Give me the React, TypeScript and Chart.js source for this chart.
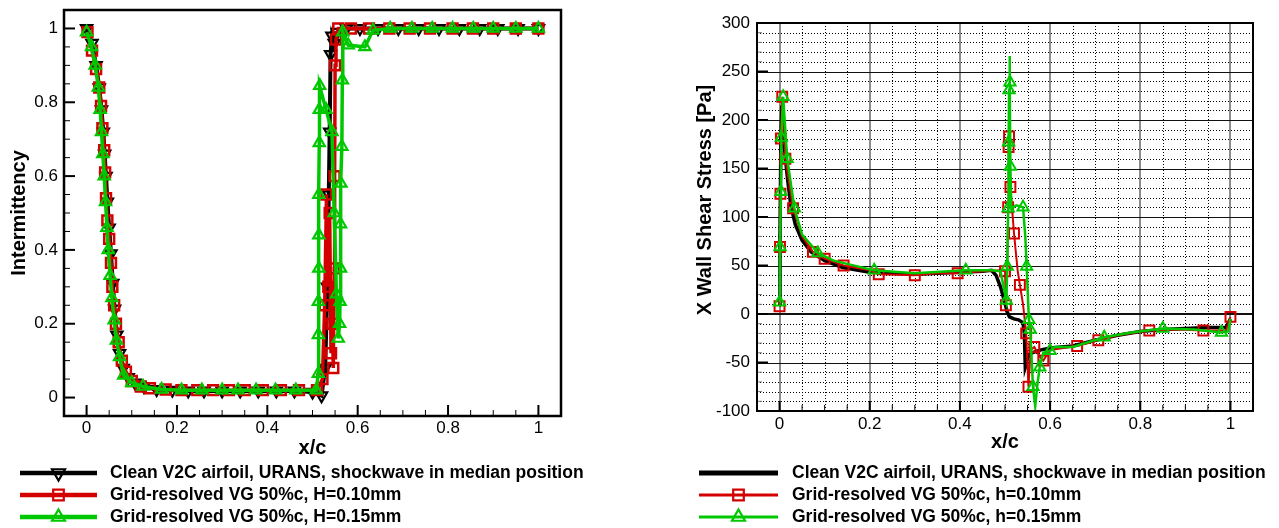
import React, { useEffect, useRef } from "react";
import { Chart, registerables } from "chart.js";

Chart.register(...registerables);

const FONT = '"Liberation Sans", Arial, Helvetica, sans-serif';
const BLACK = "#000000";
const RED = "#d40000";
const GREEN = "#00c800";

// ---------- tick labels / texts ----------
const xTickValues = [0, 0.2, 0.4, 0.6, 0.8, 1];
const leftYTickValues = [0, 0.2, 0.4, 0.6, 0.8, 1];
const rightYTickValues = [-100, -50, 0, 50, 100, 150, 200, 250, 300];

const leftYTitle = "Intermittency";
const rightYTitle = "X Wall Shear Stress [Pa]";
const xTitle = "x/c";
const leftLegendLabels = [
  "Clean V2C airfoil, URANS, shockwave in median position",
  "Grid-resolved VG 50%c, H=0.10mm",
  "Grid-resolved VG 50%c, H=0.15mm",
];
const rightLegendLabels = [
  "Clean V2C airfoil, URANS, shockwave in median position",
  "Grid-resolved VG 50%c, h=0.10mm",
  "Grid-resolved VG 50%c, h=0.15mm",
];

// ---------- left chart: intermittency ----------
const leftBlackX = [0, 0.012, 0.021, 0.028, 0.033, 0.037, 0.04, 0.043, 0.046, 0.05, 0.054, 0.058, 0.062, 0.067, 0.073, 0.081, 0.092, 0.107, 0.127, 0.155, 0.19, 0.225, 0.26, 0.3, 0.34, 0.38, 0.42, 0.46, 0.5, 0.52, 0.528, 0.533, 0.536, 0.538, 0.54, 0.543, 0.548, 0.555, 0.575, 0.605, 0.645, 0.69, 0.735, 0.78, 0.825, 0.87, 0.91, 0.955, 1.0];
const leftBlackY = [1.0, 0.96, 0.9, 0.84, 0.78, 0.72, 0.66, 0.6, 0.53, 0.46, 0.39, 0.31, 0.24, 0.17, 0.12, 0.08, 0.055, 0.04, 0.03, 0.022, 0.02, 0.018, 0.018, 0.018, 0.018, 0.018, 0.018, 0.018, 0.015, 0.005, 0.08, 0.3, 0.55, 0.72, 0.93, 0.98, 0.96, 0.99, 1.0, 1.0, 1.0, 1.0, 1.0, 1.0, 1.0, 1.0, 1.0, 1.0, 1.0];

const leftRedX = [0.002, 0.012, 0.021, 0.028, 0.032, 0.035, 0.039, 0.041, 0.043, 0.046, 0.05, 0.054, 0.057, 0.061, 0.065, 0.071, 0.078, 0.087, 0.1, 0.12, 0.14, 0.175, 0.21, 0.245, 0.28, 0.315, 0.35, 0.39, 0.43, 0.47, 0.51, 0.522, 0.527, 0.531, 0.535, 0.538, 0.541, 0.544, 0.546, 0.548, 0.549, 0.55, 0.552, 0.557, 0.585, 0.625, 0.67, 0.715, 0.76, 0.81, 0.855, 0.9, 0.95, 1.0];
const leftRedY = [0.99, 0.94, 0.89, 0.84, 0.79, 0.73, 0.67, 0.61, 0.54, 0.48, 0.43, 0.365, 0.3, 0.25, 0.2, 0.15, 0.1, 0.07, 0.045, 0.03, 0.025, 0.022, 0.02, 0.02, 0.02, 0.02, 0.02, 0.02, 0.02, 0.02, 0.02, 0.05, 0.25, 0.55, 0.3, 0.5, 0.12, 0.2, 0.08, 0.35, 0.6, 0.9, 0.97, 1.0, 1.0, 1.0, 1.0, 1.0, 1.0, 1.0, 1.0, 1.0, 1.0, 1.0];

const leftGreenX = [0, 0.011, 0.019, 0.026, 0.03, 0.033, 0.036, 0.039, 0.042, 0.045, 0.048, 0.052, 0.056, 0.061, 0.066, 0.073, 0.082, 0.1, 0.125, 0.166, 0.21, 0.255, 0.3, 0.335, 0.375, 0.418, 0.463, 0.508, 0.513, 0.513, 0.513, 0.514, 0.514, 0.514, 0.515, 0.515, 0.516, 0.53, 0.543, 0.548, 0.553, 0.557, 0.56, 0.561, 0.562, 0.562, 0.563, 0.565, 0.566, 0.567, 0.579, 0.616, 0.634, 0.672, 0.72, 0.765, 0.81, 0.856, 0.9, 0.95, 1.0];
const leftGreenY = [0.99, 0.95, 0.9, 0.84, 0.78, 0.72, 0.66, 0.6, 0.53, 0.46, 0.4, 0.33, 0.27, 0.21, 0.155, 0.11, 0.06, 0.04, 0.03, 0.022, 0.02, 0.02, 0.02, 0.02, 0.02, 0.02, 0.02, 0.02, 0.065, 0.17, 0.26, 0.35, 0.44, 0.55, 0.69, 0.78, 0.845, 0.78, 0.72, 0.5, 0.28, 0.16, 0.2, 0.26, 0.35, 0.47, 0.58, 0.68, 0.86, 0.99, 0.955, 0.95, 0.995, 1.0, 1.0, 1.0, 1.0, 1.0, 1.0, 1.0, 1.0];

// ---------- right chart: X wall shear stress ----------
const rightBlackX = [0, 0.001, 0.003, 0.005, 0.008, 0.012, 0.018, 0.025, 0.035, 0.05, 0.07, 0.1, 0.14, 0.2, 0.25, 0.3, 0.35, 0.4, 0.45, 0.47, 0.48, 0.49, 0.5, 0.505, 0.51, 0.52, 0.53, 0.54, 0.543, 0.545, 0.547, 0.55, 0.56, 0.58, 0.6, 0.65, 0.7, 0.75, 0.8, 0.85, 0.9, 0.95, 0.99, 1.0];
const rightBlackY = [10, 80, 180, 215, 195, 165, 138, 112, 92, 76, 64, 55, 48, 43, 42, 41, 42, 43, 44, 45, 40, 28, 11, 2, -3, -5, -6, -9, -20, -55, -52, -45, -40, -37, -35, -33, -27, -22, -18, -16, -15, -14, -14, -5];

const rightRedX = [0, 0.001, 0.002, 0.003, 0.006, 0.013, 0.03, 0.05, 0.074, 0.1, 0.142, 0.2, 0.22, 0.3, 0.35, 0.395, 0.45, 0.49, 0.5, 0.502, 0.505, 0.507, 0.508, 0.509, 0.512, 0.52, 0.528, 0.533, 0.54, 0.547, 0.552, 0.557, 0.565, 0.577, 0.585, 0.6, 0.66, 0.707, 0.75, 0.82, 0.88, 0.94, 0.99, 1.0];
const rightRedY = [8, 69, 124, 181, 224, 160, 109, 80, 64, 57, 50, 45, 41, 40, 42, 42, 44, 45, 44, 9, 45, 110, 172, 183, 131, 83, 45, 30, 10, -20, -75, -37, -34, -44, -48, -37, -33, -27, -22, -17, -16, -17, -17, -3];
const rightRedMarkX = [0, 0.001, 0.002, 0.003, 0.006, 0.013, 0.03, 0.074, 0.1, 0.142, 0.22, 0.3, 0.395, 0.5, 0.502, 0.507, 0.508, 0.509, 0.512, 0.52, 0.533, 0.547, 0.552, 0.565, 0.585, 0.66, 0.707, 0.82, 0.94, 1.0];
const rightRedMarkY = [8, 69, 124, 181, 224, 160, 109, 64, 57, 50, 41, 40, 42, 44, 9, 110, 172, 183, 131, 83, 30, -20, -75, -34, -48, -33, -27, -17, -17, -3];

const rightGreenX = [0, 0.001, 0.003, 0.004, 0.008, 0.017, 0.033, 0.05, 0.085, 0.12, 0.21, 0.3, 0.413, 0.47, 0.49, 0.503, 0.505, 0.507, 0.508, 0.509, 0.51, 0.511, 0.512, 0.514, 0.525, 0.54, 0.545, 0.548, 0.553, 0.556, 0.562, 0.567, 0.572, 0.577, 0.585, 0.6, 0.61, 0.65, 0.72, 0.78, 0.85, 0.92, 0.98, 0.995, 1.0];
const rightGreenY = [12, 69, 126, 182, 224, 160, 109, 82, 63, 55, 45, 42, 45, 45, 44, 14, 49, 109, 177, 231, 266, 239, 152, 109, 112, 110, 80, 49, -6, -16, -75, -95, -72, -55, -40, -38, -34, -34, -24, -19, -15, -16, -19, -18, -5];
const rightGreenMarkX = [0, 0.001, 0.003, 0.004, 0.008, 0.017, 0.033, 0.085, 0.21, 0.413, 0.503, 0.505, 0.507, 0.508, 0.509, 0.511, 0.512, 0.54, 0.548, 0.553, 0.556, 0.562, 0.577, 0.6, 0.72, 0.85, 0.98];
const rightGreenMarkY = [12, 69, 126, 182, 224, 160, 109, 63, 45, 45, 14, 49, 109, 177, 231, 239, 152, 110, 49, -6, -16, -75, -55, -38, -24, -15, -19];

// ---------- helpers ----------
const zip = (xs: number[], ys: number[]) => xs.map((x, i) => ({ x, y: ys[i] }));
const fmt = (v: number) => String(Math.round(v * 100) / 100);

function drawMarker(ctx: CanvasRenderingContext2D, style: string, x: number, y: number, r: number, rotDeg: number, color: string, lw: number) {
  ctx.save();
  ctx.strokeStyle = color;
  ctx.lineWidth = lw;
  ctx.beginPath();
  if (style === "rect") {
    const s = r * Math.SQRT1_2;
    ctx.rect(x - s, y - s, 2 * s, 2 * s);
  } else if (style === "triangle") {
    let rad = (rotDeg * Math.PI) / 180;
    ctx.moveTo(x + Math.sin(rad) * r, y - Math.cos(rad) * r);
    rad += (2 * Math.PI) / 3;
    ctx.lineTo(x + Math.sin(rad) * r, y - Math.cos(rad) * r);
    rad += (2 * Math.PI) / 3;
    ctx.lineTo(x + Math.sin(rad) * r, y - Math.cos(rad) * r);
    ctx.closePath();
  }
  ctx.stroke();
  ctx.restore();
}

type LegendItem = { color: string; lineWidth: number; marker: string | null; rot: number; label: string };

function drawLegend(ctx: CanvasRenderingContext2D, items: LegendItem[], x1: number, x2: number, tx: number, rows: number[], r: number) {
  ctx.save();
  items.forEach((it, i) => {
    const y = rows[i];
    ctx.strokeStyle = it.color;
    ctx.lineWidth = it.lineWidth;
    ctx.beginPath();
    ctx.moveTo(x1, y);
    ctx.lineTo(x2, y);
    ctx.stroke();
    if (it.marker) drawMarker(ctx, it.marker, (x1 + x2) / 2, y, r, it.rot, it.color, 2.2);
    ctx.fillStyle = BLACK;
    ctx.font = `bold 17.5px ${FONT}`;
    ctx.textAlign = "left";
    ctx.textBaseline = "middle";
    ctx.fillText(it.label, tx, y);
  });
  ctx.restore();
}

function drawTitles(ctx: CanvasRenderingContext2D, yTitle: string, yx: number, yy: number, xx: number, xy: number) {
  ctx.save();
  ctx.fillStyle = BLACK;
  ctx.font = `bold 20px ${FONT}`;
  ctx.textAlign = "center";
  ctx.textBaseline = "middle";
  ctx.fillText(xTitle, xx, xy);
  ctx.translate(yx, yy);
  ctx.rotate(-Math.PI / 2);
  ctx.fillText(yTitle, 0, 0);
  ctx.restore();
}

function tick(ctx: CanvasRenderingContext2D, x1: number, y1: number, x2: number, y2: number, w: number, color: string) {
  ctx.strokeStyle = color;
  ctx.lineWidth = w;
  ctx.beginPath();
  ctx.moveTo(x1, y1);
  ctx.lineTo(x2, y2);
  ctx.stroke();
}

function xScale(ticks: number[], labelPad: number, height: number) {
  return {
    type: "linear",
    min: -0.05,
    max: 1.05,
    afterBuildTicks: (s: any) => {
      s.ticks = ticks.map((v) => ({ value: v }));
    },
    afterFit: (s: any) => {
      s.height = height;
      s.paddingLeft = 0;
      s.paddingRight = 0;
    },
    grid: { display: false, drawTicks: false },
    border: { display: false },
    ticks: {
      padding: labelPad,
      color: BLACK,
      autoSkip: false,
      maxRotation: 0,
      font: { family: FONT, size: 17 },
      callback: (v: any) => fmt(Number(v)),
    },
  };
}

function yScale(ticks: number[], min: number, max: number, labelPad: number, width: number) {
  return {
    type: "linear",
    min,
    max,
    afterBuildTicks: (s: any) => {
      s.ticks = ticks.map((v) => ({ value: v }));
    },
    afterFit: (s: any) => {
      s.width = width;
      s.paddingTop = 0;
      s.paddingBottom = 0;
    },
    grid: { display: false, drawTicks: false },
    border: { display: false },
    ticks: {
      padding: labelPad,
      color: BLACK,
      autoSkip: false,
      font: { family: FONT, size: 17 },
      callback: (v: any) => fmt(Number(v)),
    },
  };
}

const LEGEND_ROWS = [473, 495, 517];

const leftDecor = {
  id: "leftDecor",
  afterDraw(chart: any) {
    const { ctx, chartArea: a, scales } = chart;
    const xs = scales.x;
    const ys = scales.y;
    ctx.save();
    for (let i = 0; i <= 20; i++) {
      const major = i % 4 === 0;
      const px = xs.getPixelForValue(i * 0.05);
      tick(ctx, px, a.bottom, px, a.bottom - (major ? 11 : 6), major ? 2 : 1, BLACK);
      const py = ys.getPixelForValue(i * 0.05);
      tick(ctx, a.left, py, a.left + (major ? 11 : 6), py, major ? 2 : 1, BLACK);
    }
    ctx.strokeStyle = BLACK;
    ctx.lineWidth = 2.5;
    ctx.strokeRect(a.left, a.top, a.right - a.left, a.bottom - a.top);
    ctx.restore();
    drawTitles(ctx, leftYTitle, 19, (a.top + a.bottom) / 2, (a.left + a.right) / 2, 448);
    drawLegend(
      ctx,
      [
        { color: BLACK, lineWidth: 4.5, marker: "triangle", rot: 180, label: leftLegendLabels[0] },
        { color: RED, lineWidth: 4.5, marker: "rect", rot: 0, label: leftLegendLabels[1] },
        { color: GREEN, lineWidth: 4.5, marker: "triangle", rot: 0, label: leftLegendLabels[2] },
      ],
      20, 97, 110, LEGEND_ROWS, 7.5
    );
  },
};

const rightDecor = {
  id: "rightDecor",
  beforeDatasetsDraw(chart: any) {
    const { ctx, chartArea: a, scales } = chart;
    const xs = scales.x;
    const ys = scales.y;
    ctx.save();
    // minor dotted grid
    ctx.setLineDash([1, 2]);
    for (let i = 1; i < 20; i++) {
      if (i % 4 === 0) continue;
      const px = Math.round(xs.getPixelForValue(i * 0.05)) + 0.5;
      tick(ctx, px, a.top, px, a.bottom, 1, "#000");
    }
    for (let v = -90; v < 300; v += 10) {
      if (v % 50 === 0) continue;
      const py = Math.round(ys.getPixelForValue(v)) + 0.5;
      tick(ctx, a.left, py, a.right, py, 1, "#000");
    }
    ctx.setLineDash([]);
    // major grid
    for (let i = 0; i <= 5; i++) {
      const px = Math.round(xs.getPixelForValue(i * 0.2));
      tick(ctx, px, a.top, px, a.bottom, 2, "#8c8c8c");
    }
    for (let v = -50; v < 300; v += 50) {
      const py = Math.round(ys.getPixelForValue(v)) + (v === 0 ? 0 : 0.5);
      tick(ctx, a.left, py, a.right, py, v === 0 ? 2 : 1, "#111");
    }
    ctx.restore();
  },
  afterDraw(chart: any) {
    const { ctx, chartArea: a, scales } = chart;
    const xs = scales.x;
    const ys = scales.y;
    ctx.save();
    for (let i = 0; i <= 20; i++) {
      const major = i % 4 === 0;
      const px = xs.getPixelForValue(i * 0.05);
      tick(ctx, px, a.bottom, px, a.bottom - (major ? 10 : 6), major ? 2 : 1, BLACK);
    }
    for (let v = -100; v <= 300; v += 10) {
      const major = v % 50 === 0;
      const py = ys.getPixelForValue(v);
      tick(ctx, a.left, py, a.left + (major ? 11 : 5), py, major ? 2 : 1, major ? BLACK : "#777");
    }
    ctx.strokeStyle = BLACK;
    ctx.lineWidth = 2;
    ctx.strokeRect(a.left, a.top, a.right - a.left, a.bottom - a.top);
    ctx.restore();
    drawTitles(ctx, rightYTitle, 65, 200, (a.left + a.right) / 2, 442);
    drawLegend(
      ctx,
      [
        { color: BLACK, lineWidth: 5, marker: null, rot: 0, label: rightLegendLabels[0] },
        { color: RED, lineWidth: 3, marker: "rect", rot: 0, label: rightLegendLabels[1] },
        { color: GREEN, lineWidth: 3, marker: "triangle", rot: 0, label: rightLegendLabels[2] },
      ],
      59, 138, 152, LEGEND_ROWS, 7.5
    );
  },
};

function lineSet(data: any[], color: string, width: number, order: number) {
  return {
    data,
    showLine: true,
    borderColor: color,
    borderWidth: width,
    pointRadius: 0,
    pointHoverRadius: 0,
    tension: 0,
    fill: false,
    order,
  };
}

function markSet(data: any[], color: string, style: string, rot: number, radius: number, order: number, withLine: boolean, lineWidth: number, markWidth: number) {
  return {
    data,
    showLine: withLine,
    borderColor: color,
    borderWidth: lineWidth,
    pointStyle: style,
    pointRotation: rot,
    pointRadius: radius,
    pointHoverRadius: radius,
    pointBorderColor: color,
    pointBorderWidth: markWidth,
    pointBackgroundColor: "rgba(0,0,0,0)",
    tension: 0,
    fill: false,
    order,
  };
}

function LeftChart() {
  const ref = useRef<HTMLCanvasElement | null>(null);
  useEffect(() => {
    if (!ref.current) return;
    const chart = new Chart(ref.current, {
      type: "scatter",
      data: {
        datasets: [
          markSet(zip(leftBlackX, leftBlackY), BLACK, "triangle", 180, 6.5, 3, true, 4, 2.2),
          markSet(zip(leftRedX, leftRedY), RED, "rect", 0, 7, 2, true, 3.5, 2.5),
          markSet(zip(leftGreenX, leftGreenY), GREEN, "triangle", 0, 6.5, 1, true, 3.5, 2.2),
        ] as any,
      },
      options: {
        animation: false,
        responsive: false,
        maintainAspectRatio: false,
        layout: { padding: { left: 0, top: 10, right: 79, bottom: 0 } },
        plugins: { legend: { display: false }, tooltip: { enabled: false } },
        events: [],
        scales: {
          x: xScale(xTickValues, 2, 112) as any,
          y: yScale(leftYTickValues, -0.05, 1.05, 6, 64) as any,
        },
      },
      plugins: [leftDecor as any],
    });
    return () => chart.destroy();
  }, []);
  return <canvas ref={ref} width={640} height={528} style={{ position: "absolute", left: 0, top: 0 }} />;
}

function RightChart() {
  const ref = useRef<HTMLCanvasElement | null>(null);
  useEffect(() => {
    if (!ref.current) return;
    const chart = new Chart(ref.current, {
      type: "scatter",
      data: {
        datasets: [
          lineSet(zip(rightBlackX, rightBlackY), BLACK, 3.5, 5),
          lineSet(zip(rightRedX, rightRedY), RED, 2, 4),
          markSet(zip(rightRedMarkX, rightRedMarkY), RED, "rect", 0, 7, 3, false, 0, 2),
          lineSet(zip(rightGreenX, rightGreenY), GREEN, 2.5, 2),
          markSet(zip(rightGreenMarkX, rightGreenMarkY), GREEN, "triangle", 0, 6.5, 1, false, 0, 2),
        ] as any,
      },
      options: {
        animation: false,
        responsive: false,
        maintainAspectRatio: false,
        layout: { padding: { left: 0, top: 23, right: 26, bottom: 0 } },
        plugins: { legend: { display: false }, tooltip: { enabled: false } },
        events: [],
        scales: {
          x: xScale(xTickValues, 3, 117) as any,
          y: yScale(rightYTickValues, -100, 300, 7, 117) as any,
        },
      },
      plugins: [rightDecor as any],
    });
    return () => chart.destroy();
  }, []);
  return <canvas ref={ref} width={639} height={528} style={{ position: "absolute", left: 640, top: 0 }} />;
}

export default function App() {
  return (
    <div style={{ position: "absolute", left: 0, top: 0, width: 1279, height: 528, background: "#fff", overflow: "hidden" }}>
      <LeftChart />
      <RightChart />
    </div>
  );
}
